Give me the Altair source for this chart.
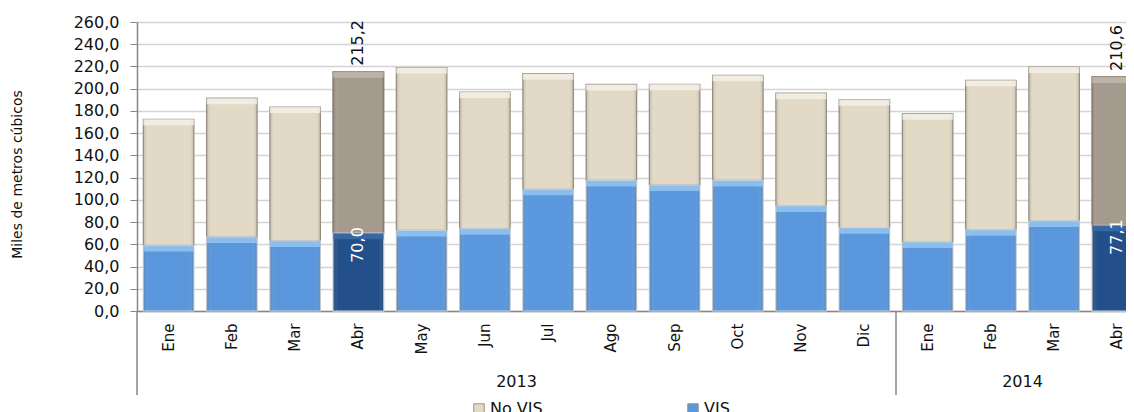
import altair as alt
import pandas as pd

months = ["Ene", "Feb", "Mar", "Abr", "May", "Jun", "Jul", "Ago", "Sep", "Oct", "Nov", "Dic",
          "Ene", "Feb", "Mar", "Abr"]
years = ["2013"] * 12 + ["2014"] * 4
total = [172.5, 191.5, 183.5, 215.2, 219.0, 197.0, 213.5, 203.8, 204.0, 212.0, 196.0, 190.0,
         177.5, 207.5, 219.5, 210.6]
vis = [59.0, 66.5, 63.0, 70.0, 72.5, 74.0, 109.5, 117.5, 113.3, 117.5, 94.5, 75.0,
       62.0, 73.0, 81.0, 77.1]
highlight = [False, False, False, True, False, False, False, False, False, False, False, False,
             False, False, False, True]
series_names = ["No VIS", "VIS"]
series_colors = ["#e2d9c6", "#5a97dc"]

cats = [f"{m} {y}" for m, y in zip(months, years)]
N = len(cats)

rows = []
for c, t, v, h in zip(cats, total, vis, highlight):
    rows.append({"cat": c, "series": "No VIS", "y0": v, "y1": t, "hl": h, "total": t, "vis": v})
    rows.append({"cat": c, "series": "VIS", "y0": 0.0, "y1": v, "hl": h, "total": t, "vis": v})
df = pd.DataFrame(rows)
lab = pd.DataFrame({"cat": cats, "total": total, "vis": vis, "hl": highlight})

# year groups: start/end index along the category axis
year_names = sorted(set(years))
grp_start = [years.index(y) for y in year_names]
grp_end = [len(years) - years[::-1].index(y) for y in year_names]
yr = pd.DataFrame({"year": year_names, "mid": [(a + b) / 2 for a, b in zip(grp_start, grp_end)]})
sep = pd.DataFrame({"pos": grp_start})

FONT = "DejaVu Sans"
W, H = 989, 289
RANGE = [0, 1012]

xscale = alt.Scale(domain=cats, range=RANGE, paddingInner=0.2, paddingOuter=0.1)
iscale = alt.Scale(domain=[0, N], range=RANGE, nice=False, zero=False)

x_enc = alt.X("cat:N", scale=xscale, sort=cats,
              axis=alt.Axis(title=None, labelExpr="split(datum.value, ' ')[0]",
                            labelAngle=-90, labelAlign="right", labelBaseline="middle",
                            labelPadding=12, ticks=False, labelFont=FONT, labelFontSize=15,
                            labelColor="#111111", domainColor="#868686", domainWidth=1.5,
                            grid=False, labelOverlap=False))
x_plain = alt.X("cat:N", scale=xscale, sort=cats, axis=None)

yscale = alt.Scale(domain=[0, 260], nice=False)
y_axis = alt.Axis(title="Miles de metros cúbicos", values=list(range(0, 261, 20)),
                  tickCount=14,
                  labelExpr="replace(format(datum.value, '.1f'), '.', ',')",
                  labelFont=FONT, labelFontSize=16, labelColor="#111111", labelPadding=11,
                  labelOverlap=False,
                  tickSize=7, tickColor="#868686", domainColor="#868686", domainWidth=1.5,
                  gridColor="#d4d4d4", gridWidth=1.3,
                  titleFont=FONT, titleFontSize=14, titleFontWeight="normal", titleColor="#111111",
                  titleX=-120, titleY=152, titleAngle=270, titleAlign="center",
                  titleBaseline="middle")


def yq(field):
    return alt.Y(field, scale=yscale, axis=y_axis)


base = alt.Chart(df)

bars = base.mark_bar(strokeWidth=1.2).encode(
    x=x_enc,
    y=yq("y0:Q"),
    y2="y1:Q",
    color=alt.Color("series:N", scale=alt.Scale(domain=series_names, range=series_colors),
                    legend=alt.Legend(title=None, orient="none", legendX=334, legendY=379,
                                      direction="horizontal", symbolType="square",
                                      symbolSize=110, symbolStrokeColor="#9a9288",
                                      symbolStrokeWidth=1, labelFont=FONT, labelFontSize=16,
                                      labelColor="#111111", columnPadding=142, labelOffset=3)),
    stroke=alt.condition("datum.series == 'VIS'", alt.value("#cfd6de"), alt.value("#9f978a")),
)

hl_bars = base.transform_filter("datum.hl").mark_bar(strokeWidth=1.2).encode(
    x=x_plain,
    y=yq("y0:Q"),
    y2="y1:Q",
    color=alt.condition("datum.series == 'VIS'", alt.value("#23508a"), alt.value("#a59a8e")),
    stroke=alt.condition("datum.series == 'VIS'", alt.value("#cfd6de"), alt.value("#8e8479")),
)

shade = base.mark_bar(
    fill={"gradient": "linear", "x1": 0, "x2": 1, "y1": 0, "y2": 0,
          "stops": [{"offset": 0, "color": "rgba(60,50,40,0.22)"},
                    {"offset": 0.1, "color": "rgba(255,255,255,0)"},
                    {"offset": 0.9, "color": "rgba(255,255,255,0)"},
                    {"offset": 1, "color": "rgba(60,50,40,0.22)"}]}
).encode(
    x=x_plain,
    y=yq("y0:Q"),
    y2="y1:Q",
)

# light bevel strip along the top of each segment
bevel_color = (
    alt.when("datum.series == 'VIS' && datum.hl").then(alt.value("#3f6ea8"))
    .when("datum.series == 'VIS'").then(alt.value("#9ccbf3"))
    .when("datum.hl").then(alt.value("#c4bab0"))
    .otherwise(alt.value("#f7f3ea"))
)
bevel = base.mark_bar(y2Offset=6, opacity=0.75).encode(
    x=x_plain,
    y=yq("y1:Q"),
    y2="y1:Q",
    color=bevel_color,
)

fmt_total = "replace(format(datum.total, '.1f'), '.', ',')"
fmt_vis = "replace(format(datum.vis, '.1f'), '.', ',')"

tot_lab = alt.Chart(lab).transform_filter("datum.hl").transform_calculate(
    t=fmt_total).mark_text(angle=270, align="left", baseline="middle", dx=6,
                           font=FONT, fontSize=16, color="#111111").encode(
    x=x_plain,
    y=yq("total:Q"),
    text="t:N",
)
vis_lab = alt.Chart(lab).transform_filter("datum.hl").transform_calculate(
    t=fmt_vis).mark_text(angle=270, align="right", baseline="middle", dx=6,
                         font=FONT, fontSize=16, color="#ffffff").encode(
    x=x_plain,
    y=yq("vis:Q"),
    text="t:N",
)

year_text = alt.Chart(yr).mark_text(font=FONT, fontSize=16, color="#111111",
                                    baseline="middle", align="center").encode(
    x=alt.X("mid:Q", scale=iscale, axis=None),
    y=alt.value(360),
    text="year:N",
)

sep_rules = alt.Chart(sep).mark_rule(color="#868686", strokeWidth=1.5).encode(
    x=alt.X("pos:Q", scale=iscale, axis=None),
    y=alt.value(H),
    y2=alt.value(373),
)

chart = alt.layer(bars, hl_bars, shade, bevel, tot_lab, vis_lab, year_text,
                  sep_rules).resolve_scale(
    x="independent"
).properties(
    width=W, height=H,
    autosize=alt.AutoSizeParams(type="none"),
    padding={"left": 129, "top": 14, "right": 0, "bottom": 101},
    background="white",
).configure_view(stroke=None)

chart.save("out.html", embed_options={"renderer": "svg", "actions": False})
